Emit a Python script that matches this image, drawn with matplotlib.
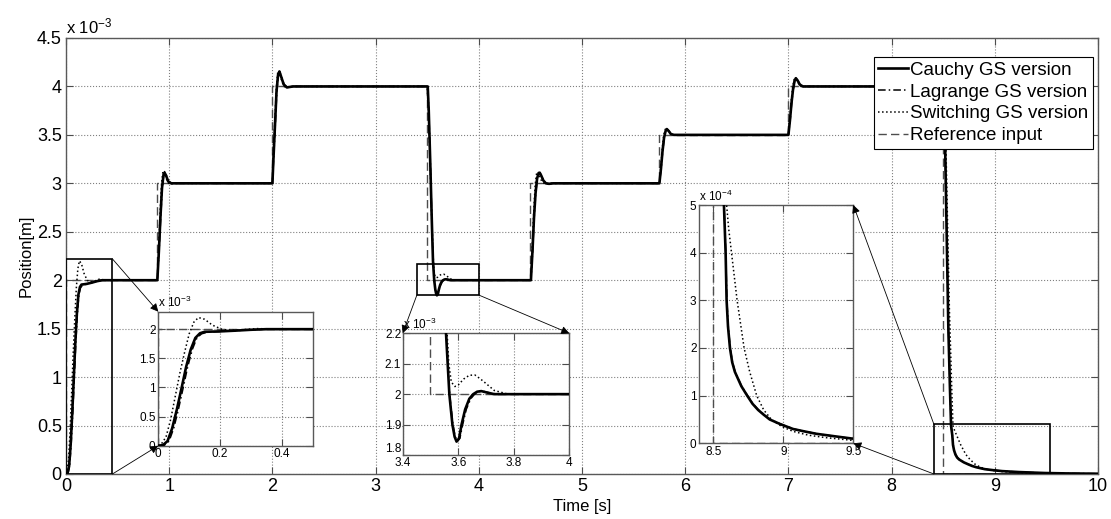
import matplotlib
matplotlib.use('Agg')
import matplotlib.pyplot as plt
from matplotlib.patches import Rectangle, ConnectionPatch

plt.rcParams['font.family'] = ['Liberation Sans', 'DejaVu Sans']
plt.rcParams['mathtext.fontset'] = 'custom'
plt.rcParams['mathtext.rm'] = 'Liberation Sans'
plt.rcParams['mathtext.it'] = 'Liberation Sans'

# position in units of 1e-3 m
t_cauchy = [0, 0.015, 0.03, 0.045, 0.06, 0.075, 0.09, 0.105, 0.12, 0.135, 0.15, 0.2, 0.25, 0.3, 0.35,
            0.885, 0.9, 0.915, 0.93, 0.945, 0.955, 0.97, 0.99, 1.02,
            2.0, 2.01, 2.025, 2.04, 2.055, 2.068, 2.085, 2.11, 2.14, 2.2,
            3.505, 3.515, 3.53, 3.545, 3.556, 3.568, 3.579, 3.587, 3.594, 3.603, 3.612, 3.625, 3.64,
            3.654, 3.668, 3.683, 3.705, 3.73, 3.8,
            4.505, 4.52, 4.535, 4.55, 4.565, 4.578, 4.59, 4.605, 4.625, 4.65, 4.68, 4.72,
            5.75, 5.765, 5.78, 5.795, 5.81, 5.822, 5.84, 5.86, 5.89,
            7.0, 7.015, 7.03, 7.045, 7.06, 7.072, 7.09, 7.11, 7.14,
            8.505, 8.515, 8.53, 8.55, 8.565, 8.576, 8.588, 8.595, 8.605, 8.619, 8.635, 8.654, 8.7,
            8.742, 8.78, 8.82, 8.86, 8.903, 8.98, 9.07, 9.15, 9.235, 9.36, 9.49, 9.7, 10.0]
y_cauchy = [0, 0.01, 0.08, 0.3, 0.62, 0.98, 1.35, 1.65, 1.85, 1.93, 1.955, 1.962, 1.975, 1.99, 2.0,
            2.0, 2.3, 2.65, 2.95, 3.09, 3.11, 3.08, 3.02, 3.0,
            3.0, 3.25, 3.6, 3.95, 4.12, 4.155, 4.1, 4.02, 3.99, 4.0,
            4.0, 3.75, 3.2, 2.6, 2.2, 2.0, 1.9, 1.86, 1.844, 1.855, 1.9, 1.95, 1.985,
            2.0, 2.008, 2.01, 2.005, 2.0, 2.0,
            2.0, 2.3, 2.65, 2.9, 3.05, 3.1, 3.11, 3.08, 3.03, 3.0, 2.995, 3.0,
            3.0, 3.15, 3.33, 3.47, 3.54, 3.56, 3.54, 3.51, 3.5,
            3.5, 3.65, 3.83, 3.97, 4.06, 4.085, 4.06, 4.02, 4.0,
            4.0, 3.6, 2.7, 1.5, 0.9, 0.5, 0.4, 0.3, 0.245, 0.2, 0.17, 0.15, 0.12,
            0.1, 0.083, 0.07, 0.06, 0.05, 0.04, 0.03, 0.025, 0.02, 0.015, 0.01, 0.006, 0.003]

t_lagrange = [0, 0.02, 0.035, 0.05, 0.065, 0.08, 0.095, 0.11, 0.125, 0.14, 0.16, 0.2, 0.25, 0.3, 0.35,
              0.885, 0.902, 0.918, 0.933, 0.948, 0.958, 0.973, 0.993, 1.025,
              2.0, 2.012, 2.028, 2.043, 2.058, 2.071, 2.088, 2.113, 2.145, 2.2,
              3.505, 3.516, 3.531, 3.546, 3.557, 3.569, 3.581, 3.589, 3.597, 3.606, 3.616, 3.629, 3.645,
              3.659, 3.672, 3.688, 3.71, 3.74, 3.8,
              4.505, 4.522, 4.537, 4.552, 4.567, 4.58, 4.592, 4.607, 4.628, 4.653, 4.684, 4.72,
              5.75, 5.767, 5.782, 5.797, 5.812, 5.824, 5.842, 5.862, 5.89,
              7.0, 7.017, 7.032, 7.047, 7.062, 7.074, 7.092, 7.112, 7.14,
              8.505, 8.516, 8.531, 8.551, 8.566, 8.577, 8.589, 8.597, 8.607, 8.621, 8.637, 8.656, 8.702,
              8.745, 8.783, 8.823, 8.864, 8.906, 8.985, 9.075, 9.155, 9.24, 9.36, 9.49, 9.7, 10.0]
y_lagrange = [0, 0.01, 0.08, 0.3, 0.62, 0.98, 1.35, 1.65, 1.85, 1.92, 1.95, 1.96, 1.975, 1.99, 2.0,
              2.0, 2.3, 2.65, 2.95, 3.09, 3.11, 3.08, 3.02, 3.0,
              3.0, 3.25, 3.6, 3.95, 4.12, 4.15, 4.1, 4.02, 3.99, 4.0,
              4.0, 3.75, 3.2, 2.6, 2.2, 2.0, 1.9, 1.86, 1.845, 1.855, 1.9, 1.95, 1.985,
              2.0, 2.008, 2.01, 2.005, 2.0, 2.0,
              2.0, 2.3, 2.65, 2.9, 3.05, 3.1, 3.11, 3.08, 3.03, 3.0, 2.995, 3.0,
              3.0, 3.15, 3.33, 3.47, 3.54, 3.56, 3.54, 3.51, 3.5,
              3.5, 3.65, 3.83, 3.97, 4.06, 4.085, 4.06, 4.02, 4.0,
              4.0, 3.6, 2.7, 1.5, 0.9, 0.5, 0.4, 0.3, 0.245, 0.2, 0.17, 0.15, 0.12,
              0.1, 0.083, 0.07, 0.06, 0.05, 0.04, 0.03, 0.025, 0.02, 0.015, 0.01, 0.006, 0.003]

t_switch = [0, 0.01, 0.025, 0.04, 0.055, 0.07, 0.085, 0.1, 0.115, 0.13, 0.15, 0.175, 0.205, 0.235, 0.27,
            0.32, 0.4,
            0.885, 0.898, 0.912, 0.926, 0.94, 0.955, 0.975, 1.0, 1.05,
            2.0, 2.01, 2.024, 2.038, 2.052, 2.066, 2.085, 2.11, 2.15, 2.2,
            3.5, 3.515, 3.53, 3.545, 3.56, 3.566, 3.575, 3.588, 3.6, 3.62, 3.64, 3.66, 3.68, 3.7,
            3.73, 3.78, 3.85,
            4.505, 4.518, 4.532, 4.546, 4.56, 4.575, 4.59, 4.61, 4.64, 4.7,
            5.75, 5.764, 5.778, 5.792, 5.808, 5.822, 5.842, 5.87, 5.92,
            7.0, 7.014, 7.028, 7.042, 7.058, 7.072, 7.092, 7.12, 7.17,
            8.5, 8.52, 8.56, 8.585, 8.595, 8.61, 8.63, 8.65, 8.67, 8.695, 8.72, 8.76, 8.81, 8.86,
            8.915, 8.99, 9.07, 9.18, 9.3, 9.5, 9.75, 10.0]
y_switch = [0, 0.03, 0.15, 0.45, 0.85, 1.25, 1.6, 1.92, 2.12, 2.2, 2.17, 2.07, 2.0, 1.98, 1.99,
            2.01, 2.0,
            2.0, 2.3, 2.7, 3.0, 3.13, 3.12, 3.04, 2.99, 3.0,
            3.0, 3.3, 3.65, 3.98, 4.15, 4.16, 4.08, 4.0, 3.99, 4.0,
            4.0, 3.7, 3.15, 2.6, 2.2, 2.1, 2.04, 2.025, 2.03, 2.05, 2.062, 2.063, 2.05, 2.035,
            2.012, 2.0, 2.0,
            2.0, 2.35, 2.7, 2.98, 3.1, 3.12, 3.07, 3.02, 2.995, 3.0,
            3.0, 3.17, 3.36, 3.5, 3.56, 3.565, 3.53, 3.5, 3.5,
            3.5, 3.67, 3.86, 4.0, 4.08, 4.08, 4.04, 4.0, 4.0,
            4.0, 3.7, 1.7, 0.8, 0.5, 0.45, 0.4, 0.35, 0.3, 0.25, 0.2, 0.15, 0.1, 0.07,
            0.05, 0.035, 0.025, 0.017, 0.012, 0.006, 0.003, 0.002]

t_ref = [0, 0, 0.885, 0.885, 2.0, 2.0, 3.5, 3.5, 4.5, 4.5, 5.75, 5.75, 7.0, 7.0, 8.5, 8.5, 10]
y_ref = [0, 2, 2, 3, 3, 4, 4, 2, 2, 3, 3, 3.5, 3.5, 4, 4, 0, 0]

labels = ['Cauchy GS version', 'Lagrange GS version', 'Switching GS version', 'Reference input']


def draw_lines(ax, scale=1.0):
    out = []
    out += ax.plot(t_cauchy, [v * scale for v in y_cauchy], color='k', lw=1.9, ls='-', zorder=5)
    out += ax.plot(t_lagrange, [v * scale for v in y_lagrange], color='k', lw=1.1, ls='-.',
                   dashes=(5, 2, 1, 2), zorder=4)
    out += ax.plot(t_switch, [v * scale for v in y_switch], color='k', lw=1.1, ls=':', zorder=3)
    out += ax.plot(t_ref, [v * scale for v in y_ref], color='0.3', lw=1.0, ls='--',
                   dashes=(6, 3), zorder=2)
    return out


def style_axes(ax, fs):
    ax.grid(True, ls=':', color='0.5', lw=0.8)
    ax.tick_params(direction='in', top=True, right=True, length=5, labelsize=fs,
                   color='0.3', pad=3)
    for s in ax.spines.values():
        s.set_color('0.35')
        s.set_linewidth(1.0)


fig = plt.figure(figsize=(11.11, 5.19), dpi=100)
ax = fig.add_axes([66 / 1111, 1 - 474 / 519, 1032 / 1111, 436 / 519])
lines = draw_lines(ax)
ax.set_xlim(0, 10)
ax.set_ylim(0, 4.5)
ax.set_xticks(range(0, 11))
ax.set_yticks([0, 0.5, 1, 1.5, 2, 2.5, 3, 3.5, 4, 4.5])
ax.set_xticklabels([str(i) for i in range(0, 11)])
ax.set_yticklabels(['0', '0.5', '1', '1.5', '2', '2.5', '3', '3.5', '4', '4.5'])
style_axes(ax, 13)
ax.set_xlabel('Time [s]', fontsize=12, labelpad=3)
ax.set_ylabel('Position[m]', fontsize=12, labelpad=2)
fig.text(66 / 1111, 1 - 33 / 519, r'x 10$^{-3}$', fontsize=12)

leg = ax.legend(lines, labels, loc='upper right', bbox_to_anchor=(1093 / 1111, 1 - 57 / 519),
                bbox_transform=fig.transFigure, borderaxespad=0, fontsize=13.5, handlelength=1.6,
                handletextpad=0.1, labelspacing=0.25, borderpad=0.25, fancybox=False, framealpha=1)
leg.get_frame().set_edgecolor('k')
leg.get_frame().set_linewidth(0.8)

# zoom boxes on the main plot
rect1 = (0.0, 0.0, 0.45, 2.22)
rect2 = (3.40, 1.847, 0.60, 0.32)
rect3 = (8.41, 0.0, 1.125, 0.513)
for x0, y0, w, h in (rect1, rect2, rect3):
    ax.add_patch(Rectangle((x0, y0), w, h, fill=False, ec='k', lw=1.2, zorder=6))

# inset 1
in1 = fig.add_axes([158.3 / 1111, 1 - 445.7 / 519, 154.4 / 1111, 134 / 519])
draw_lines(in1)
in1.set_xlim(0, 0.5)
in1.set_ylim(0, 2.3)
in1.set_xticks([0, 0.2, 0.4])
in1.set_xticklabels(['0', '0.2', '0.4'])
in1.set_yticks([0, 0.5, 1, 1.5, 2])
in1.set_yticklabels(['0', '0.5', '1', '1.5', '2'])
style_axes(in1, 8.5)
in1.tick_params(pad=2)
fig.text(158 / 1111, 1 - 307 / 519, r'x 10$^{-3}$', fontsize=8.5)

# inset 2
in2 = fig.add_axes([402.7 / 1111, 1 - 455 / 519, 166.6 / 1111, 121.7 / 519])
draw_lines(in2)
in2.set_xlim(3.4, 4.0)
in2.set_ylim(1.8, 2.2)
in2.set_xticks([3.4, 3.6, 3.8, 4.0])
in2.set_xticklabels(['3.4', '3.6', '3.8', '4'])
in2.set_yticks([1.8, 1.9, 2.0, 2.1, 2.2])
in2.set_yticklabels(['1.8', '1.9', '2', '2.1', '2.2'])
style_axes(in2, 8.5)
in2.tick_params(axis='y', pad=1)
in2.tick_params(axis='x', pad=1.5)
for lab in in2.get_yticklabels():
    lab.set_verticalalignment('bottom' if lab.get_text() == '1.8' else 'center_baseline')
fig.text(403 / 1111, 1 - 329 / 519, r'x 10$^{-3}$', fontsize=8.5)

# inset 3 (units of 1e-4 m)
in3 = fig.add_axes([699.3 / 1111, 1 - 443.3 / 519, 154 / 1111, 238.3 / 519])
draw_lines(in3, scale=10.0)
in3.set_xlim(8.4, 9.5)
in3.set_ylim(0, 5)
in3.set_xticks([8.5, 9, 9.5])
in3.set_xticklabels(['8.5', '9', '9.5'])
in3.set_yticks([0, 1, 2, 3, 4, 5])
in3.set_yticklabels(['0', '1', '2', '3', '4', '5'])
style_axes(in3, 8.5)
in3.tick_params(pad=2)
fig.text(699 / 1111, 1 - 201 / 519, r'x 10$^{-4}$', fontsize=8.5)

# connecting arrows
links = [
    ((0.45, 2.22), in1, (0, 1)),
    ((0.45, 0.0), in1, (0, 0)),
    ((3.40, 1.847), in2, (0, 1)),
    ((4.0, 1.847), in2, (1, 1)),
    ((8.41, 0.513), in3, (1, 1)),
    ((8.41, 0.0), in3, (1, 0)),
]
for xy_main, inax, xy_in in links:
    con = ConnectionPatch(xyA=xy_main, coordsA='data', axesA=ax,
                          xyB=xy_in, coordsB='axes fraction', axesB=inax,
                          arrowstyle='-|>', mutation_scale=12, lw=0.6, color='k',
                          shrinkA=0, shrinkB=0, zorder=20)
    fig.add_artist(con)

fig.savefig('out.png', dpi=100)
